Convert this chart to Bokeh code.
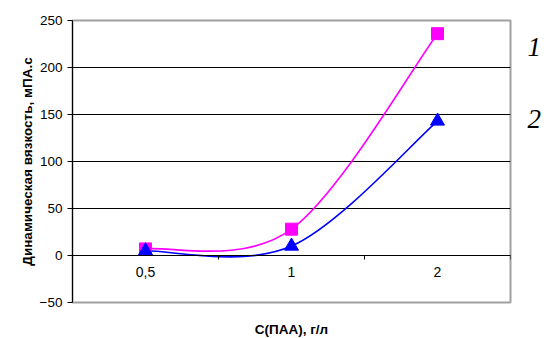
from bokeh.plotting import figure
from bokeh.models import Range1d, FixedTicker, LinearAxis, Title, ColumnDataSource
from bokeh.embed import file_html
from bokeh.resources import INLINE

# ---- data ----
categories = ["0,5", "1", "2"]
visc_1 = [7, 28, 236]      # curve 1 (magenta, squares)
visc_2 = [5, 10, 143]      # curve 2 (blue, triangles)
y_ticks = [-50, 0, 50, 100, 150, 200, 250]
grid_ticks = [0, 50, 100, 150, 200]
series_names = ["1", "2"]
y_title = "Динамическая вязкость, мПА.с"
x_title = "С(ПАА), г/л"

FONT = "Liberation Sans"
MAGENTA = "#FF00FF"
BLUE = "#0000FF"

xs = [i + 0.5 for i in range(len(categories))]
boundaries = list(range(len(categories) + 1))
name_levels = [222, 145]   # vertical placement of the curve numbers


def smooth(xv, yv):
    n = len(xv)
    d = dict(x0=[], y0=[], x1=[], y1=[], cx0=[], cy0=[], cx1=[], cy1=[])
    for i in range(n - 1):
        xp, yp = (xv[i - 1], yv[i - 1]) if i > 0 else (xv[i], yv[i])
        xn, yn = (xv[i + 2], yv[i + 2]) if i + 2 < n else (xv[i + 1], yv[i + 1])
        d["x0"].append(xv[i]); d["y0"].append(yv[i])
        d["x1"].append(xv[i + 1]); d["y1"].append(yv[i + 1])
        d["cx0"].append(xv[i] + (xv[i + 1] - xp) / 6)
        d["cy0"].append(yv[i] + (yv[i + 1] - yp) / 6)
        d["cx1"].append(xv[i + 1] - (xn - xv[i]) / 6)
        d["cy1"].append(yv[i + 1] - (yn - yv[i]) / 6)
    return ColumnDataSource(d)


p = figure(width=544, height=338,
           x_range=Range1d(0, len(categories)), y_range=Range1d(-50, 250),
           output_backend="svg", toolbar_location=None,
           min_border_left=72, min_border_right=33,
           min_border_top=20, min_border_bottom=36)

p.background_fill_color = "white"
p.border_fill_color = "white"
p.outline_line_color = "#A0A0A0"
p.outline_line_width = 2

# y axis
p.yaxis.ticker = FixedTicker(ticks=y_ticks)
p.yaxis.axis_line_color = "black"
p.yaxis.major_tick_line_color = "black"
p.yaxis.major_tick_out = 5
p.yaxis.major_tick_in = 0
p.yaxis.minor_tick_line_color = None
p.yaxis.major_label_standoff = 5
p.yaxis.major_label_text_font = FONT
p.yaxis.major_label_text_font_size = "13.5px"
p.yaxis.major_label_text_color = "black"

p.ygrid.ticker = FixedTicker(ticks=grid_ticks)
p.ygrid.grid_line_color = "black"
p.ygrid.grid_line_width = 1
p.xgrid.visible = False

# x axis at y = 0 : tick marks at category boundaries
xa = p.xaxis[0]
xa.fixed_location = 0
xa.ticker = FixedTicker(ticks=boundaries)
xa.axis_line_color = "black"
xa.major_tick_line_color = "black"
xa.major_tick_out = 4
xa.major_tick_in = 0
xa.minor_tick_line_color = None
xa.major_label_text_font_size = "0px"
xa.major_label_text_alpha = 0

# category labels
xl = LinearAxis(fixed_location=0, ticker=FixedTicker(ticks=xs),
                major_label_overrides={x: c for x, c in zip(xs, categories)})
xl.axis_line_color = None
xl.major_tick_line_color = None
xl.minor_tick_line_color = None
xl.major_tick_out = 0
xl.major_label_standoff = 11
xl.major_label_text_font = FONT
xl.major_label_text_font_size = "14px"
xl.major_label_text_color = "black"
p.add_layout(xl, "below")

# curve numbers on the right
ra = LinearAxis(ticker=FixedTicker(ticks=name_levels),
                major_label_overrides={lv: nm for lv, nm in zip(name_levels, series_names)})
ra.axis_line_color = None
ra.major_tick_line_color = None
ra.minor_tick_line_color = None
ra.major_tick_out = 0
ra.major_tick_in = 0
ra.major_label_standoff = 17
ra.major_label_text_font = "Liberation Serif"
ra.major_label_text_font_style = "italic"
ra.major_label_text_font_size = "27px"
ra.major_label_text_color = "black"
p.add_layout(ra, "right")

# titles
p.add_layout(Title(text=y_title, align="center", text_font=FONT,
                   text_font_style="bold", text_font_size="13.5px",
                   text_color="black", standoff=4, offset=17), "left")
# spacer between the frame and the x title
p.add_layout(Title(text=" ", text_font_size="1px", standoff=13), "below")
p.add_layout(Title(text=x_title, align="center", text_font=FONT,
                   text_font_style="bold", text_font_size="13.5px",
                   text_color="black", standoff=2), "below")

# curves
p.bezier(x0="x0", y0="y0", x1="x1", y1="y1", cx0="cx0", cy0="cy0",
         cx1="cx1", cy1="cy1", source=smooth(xs, visc_1),
         line_color=MAGENTA, line_width=1.6)
p.bezier(x0="x0", y0="y0", x1="x1", y1="y1", cx0="cx0", cy0="cy0",
         cx1="cx1", cy1="cy1", source=smooth(xs, visc_2),
         line_color=BLUE, line_width=1.6)
p.scatter(xs, visc_1, marker="square", size=12, fill_color=MAGENTA,
          line_color=MAGENTA)
p.scatter(xs, visc_2, marker="triangle", size=14, fill_color=BLUE,
          line_color=BLUE)

open("out.html", "w").write(file_html(p, INLINE))
